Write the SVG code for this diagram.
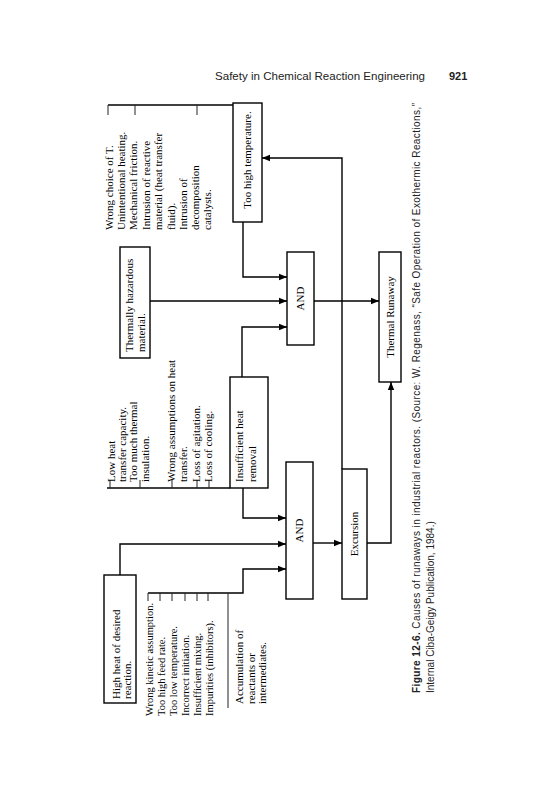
<svg xmlns="http://www.w3.org/2000/svg" width="541" height="800" viewBox="0 0 541 800">
<style>
.box{fill:none;stroke:#000;stroke-width:1.4}
.ln{fill:none;stroke:#000;stroke-width:1.4}
.tk{fill:none;stroke:#222;stroke-width:1}
.t{font-family:"Liberation Serif","Times New Roman",serif;font-size:11px;fill:#000}
.ts{font-family:"Liberation Serif","Times New Roman",serif;font-size:10.5px;fill:#000}
.tc{font-family:"Liberation Serif","Times New Roman",serif;font-size:11px;fill:#000;text-anchor:middle}
.cap{font-family:"Liberation Sans",Arial,sans-serif;font-size:10px;fill:#222}
.hd{font-family:"Liberation Sans",Arial,sans-serif;font-size:11px;fill:#222}
</style>
<defs>
<marker id="ah" viewBox="0 0 10 10" refX="10" refY="5" markerWidth="8" markerHeight="8" markerUnits="userSpaceOnUse" orient="auto">
<path d="M0,1 L10,5 L0,9 z" fill="#000"/>
</marker>
</defs>
<rect width="541" height="800" fill="#fff"/>
<g id="header">
<text class="hd" x="215" y="80" textLength="210" lengthAdjust="spacingAndGlyphs">Safety in Chemical Reaction Engineering</text>
<text class="hd" x="449" y="80" font-weight="bold">921</text>
</g>
<g transform="matrix(0,-1,1,0,0,800)">
<g id="connectors">
<path class="ln" d="M225,120 L256,120 L256,286" marker-end="url(#ah)"/>
<path class="ln" d="M207,148 L207,243 L231,243 L231,286" marker-end="url(#ah)"/>
<path class="ln" d="M312,243 L282,243 L282,286" marker-end="url(#ah)"/>
<path class="ln" d="M423,242 L473,242 L473,287" marker-end="url(#ah)"/>
<path class="ln" d="M499,150 L499,287" marker-end="url(#ah)"/>
<path class="ln" d="M578,243 L523,243 L523,287" marker-end="url(#ah)"/>
<path class="ln" d="M695,108 L695,233"/>
<path class="ln" d="M312,107 L312,230"/>
<path class="ln" d="M257,313 L257,342" marker-end="url(#ah)"/>
<path class="ln" d="M331,342 L642,342 L642,262" marker-end="url(#ah)"/>
<path class="ln" d="M499,314 L499,379" marker-end="url(#ah)"/>
<path class="ln" d="M257,367 L257,391 L418,391" marker-end="url(#ah)"/>
</g>
<g id="high-heat">
<rect class="box" x="97" y="104" width="128" height="32"/>
<text class="t" x="101" y="120">High heat of desired</text>
<text class="t" x="101" y="131">reaction.</text>
</g>
<g id="kinetic-causes">
<path class="tk" d="M207,148 L199,148 M207,160 L199,160 M207,172 L199,172 M207,185 L199,185 M207,197 L199,197 M207,208 L199,208"/>
<text class="ts" x="84" y="153">Wrong kinetic assumption.</text>
<text class="ts" x="84" y="165">Too high feed rate.</text>
<text class="ts" x="84" y="177">Too low temperature.</text>
<text class="ts" x="84" y="189">Incorrect initiation.</text>
<text class="ts" x="84" y="201">Insufficient mixing.</text>
<text class="ts" x="84" y="213">Impurities (inhibitors).</text>
</g>
<g id="accumulation">
<path class="tk" d="M207,228 L92,228"/>
<text class="t" x="96" y="243">Accumulation of</text>
<text class="t" x="96" y="255">reactants or</text>
<text class="t" x="96" y="266">intermediates.</text>
</g>
<g id="heat-removal-causes">
<path class="tk" d="M312,110 L320,110 M312,140 L320,140 M312,172 L320,172 M312,197 L320,197 M312,209 L320,209"/>
<text class="t" x="318" y="115">Low heat</text>
<text class="t" x="318" y="126">transfer capacity.</text>
<text class="t" x="318" y="137">Too much thermal</text>
<text class="t" x="318" y="149">insulation.</text>
<text class="t" x="318" y="175">Wrong assumptions on heat</text>
<text class="t" x="318" y="187">transfer.</text>
<text class="t" x="318" y="200">Loss of agitation.</text>
<text class="t" x="318" y="212">Loss of cooling.</text>
</g>
<g id="insufficient-heat-removal">
<rect class="box" x="312" y="230" width="111" height="38"/>
<text class="t" x="318" y="243">Insufficient heat</text>
<text class="t" x="318" y="256">removal</text>
</g>
<g id="thermally-hazardous">
<rect class="box" x="442" y="120" width="111" height="30"/>
<text class="t" x="448" y="133">Thermally hazardous</text>
<text class="t" x="448" y="145">material.</text>
</g>
<g id="temperature-causes">
<path class="tk" d="M695,108 L685,108 M695,135 L685,135 M695,197 L685,197"/>
<text class="t" x="570" y="113">Wrong choice of T.</text>
<text class="t" x="570" y="125">Unintentional heating.</text>
<text class="t" x="570" y="137">Mechanical friction.</text>
<text class="t" x="570" y="150">Intrusion of reactive</text>
<text class="t" x="570" y="162">material (heat transfer</text>
<text class="t" x="570" y="175">fluid).</text>
<text class="t" x="570" y="187">Intrusion of</text>
<text class="t" x="570" y="199">decomposition</text>
<text class="t" x="570" y="211">catalysts.</text>
</g>
<g id="too-high-temperature">
<rect class="box" x="578" y="233" width="119" height="29"/>
<text class="tc" x="640" y="251" font-size="10.5">Too high temperature.</text>
</g>
<g id="and-upper">
<rect class="box" x="455" y="287" width="93" height="27"/>
<text class="tc" x="501.5" y="304">AND</text>
</g>
<g id="and-lower">
<rect class="box" x="201" y="286" width="137" height="27"/>
<text class="tc" x="269.5" y="303">AND</text>
</g>
<g id="excursion">
<rect class="box" x="201" y="342" width="130" height="25"/>
<text class="tc" x="266" y="358">Excursion</text>
</g>
<g id="thermal-runaway">
<rect class="box" x="418" y="379" width="130" height="22"/>
<text class="tc" x="483" y="394" font-size="12">Thermal Runaway</text>
</g>
<g id="caption">
<text class="cap" x="107" y="420" textLength="590" lengthAdjust="spacing"><tspan font-weight="bold">Figure 12-6.</tspan> Causes of runaways in industrial reactors. (Source: W. Regenass, “Safe Operation of Exothermic Reactions,”</text>
<text class="cap" x="107" y="434">Internal Ciba-Geigy Publication, 1984.)</text>
</g>
</g>
</svg>
